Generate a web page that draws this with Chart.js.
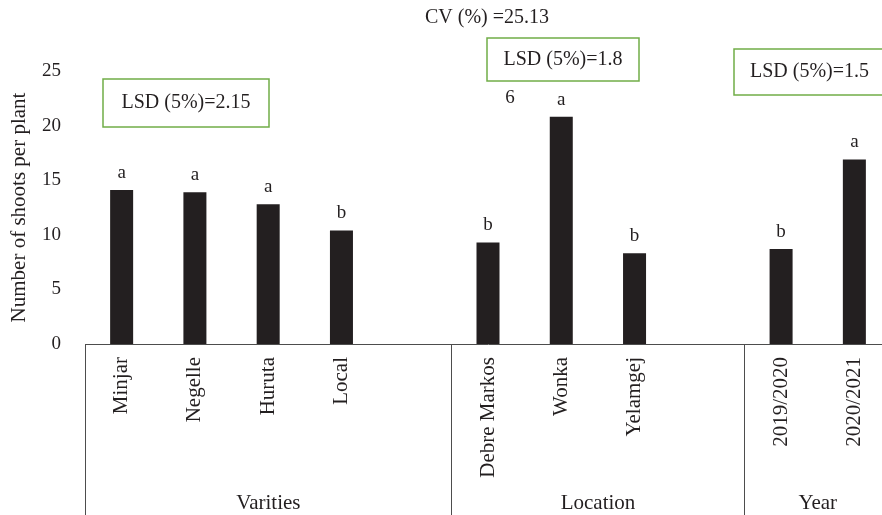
<!DOCTYPE html>
<html>
<head>
<meta charset="utf-8">
<script src="https://cdn.jsdelivr.net/npm/chart.js@4"></script>
<style>
  html, body { margin: 0; padding: 0; background: #fff; overflow: hidden; }
  #wrap { width: 900px; height: 515px; position: relative; }
</style>
</head>
<body>
<div id="wrap"><canvas id="shootsChart"></canvas></div>
<script>
// empty strings are the gaps between the groups
const categories = ['Minjar', 'Negelle', 'Huruta', 'Local', '', 'Debre Markos', 'Wonka', 'Yelamgej', '', '2019/2020', '2020/2021'];
const shoots = [14.1, 13.9, 12.8, 10.4, null, 9.3, 20.8, 8.3, null, 8.7, 16.9];
const letters = ['a', 'a', 'a', 'b', '', 'b', 'a', 'b', '', 'b', 'a'];
const yTicks = [0, 5, 10, 15, 20, 25];
const groups = [
    { name: 'Varities', from: 0, to: 4 },
    { name: 'Location', from: 5, to: 8 },
    { name: 'Year', from: 9, to: 10 }
];
const lsdNotes = ['LSD (5%)=2.15', 'LSD (5%)=1.8', 'LSD (5%)=1.5'];
const cvNote = 'CV (%) =25.13';

const ink = '#231f20';
const lineCol = '#4d4d4d';
const serif = '"Liberation Serif", "DejaVu Serif", serif';

const extrasPlugin = {
    id: 'extras',
    afterDraw(chart) {
        const ctx = chart.ctx;
        const x = chart.scales.x;
        const y = chart.scales.y;
        const area = chart.chartArea;
        const bottom = chart.height;
        ctx.save();

        // group separators and names under the axis
        ctx.strokeStyle = lineCol;
        ctx.lineWidth = 1;
        ctx.fillStyle = ink;
        ctx.font = '21px ' + serif;
        ctx.textAlign = 'center';
        ctx.textBaseline = 'middle';
        groups.forEach(g => {
            const left = Math.round(x.getPixelForValue(g.from - 0.5)) + 0.5;
            const right = x.getPixelForValue(g.to + 0.5);
            ctx.beginPath();
            ctx.moveTo(left, area.bottom);
            ctx.lineTo(left, bottom);
            ctx.stroke();
            ctx.fillText(g.name, (left + right) / 2, 503);
        });

        // significance letters over the bars
        ctx.font = '19px ' + serif;
        const meta = chart.getDatasetMeta(0);
        meta.data.forEach((bar, i) => {
            if (!letters[i]) return;
            ctx.fillText(letters[i], bar.x, bar.y - 17);
        });
        // stray "6" printed next to the Wonka letter in the original
        ctx.fillText('6', x.getPixelForValue(5.3), y.getPixelForValue(22.5));

        // CV note
        ctx.font = '20px ' + serif;
        ctx.fillText(cvNote, 487, 18);

        // LSD boxes
        const boxes = [
            { l: 103, t: 79, r: 269, b: 127 },
            { l: 487, t: 38, r: 639, b: 81 },
            { l: 734, t: 49, r: 905, b: 95 }
        ];
        ctx.strokeStyle = '#70ad47';
        ctx.lineWidth = 1.5;
        boxes.forEach((bx, i) => {
            ctx.strokeRect(bx.l, bx.t, bx.r - bx.l, bx.b - bx.t);
            ctx.textAlign = i === 2 ? 'left' : 'center';
            const tx = i === 2 ? bx.l + 16 : (bx.l + bx.r) / 2;
            ctx.fillText(lsdNotes[i], tx, (bx.t + bx.b) / 2);
        });
        ctx.restore();
    }
};

document.addEventListener('DOMContentLoaded', () => {
    const ctx = document.getElementById('shootsChart').getContext('2d');

    new Chart(ctx, {
        type: 'bar',
        data: {
            labels: categories,
            datasets: [{
                data: shoots,
                backgroundColor: ink,
                categoryPercentage: 1,
                barPercentage: 0.314
            }]
        },
        options: {
            responsive: true,
            maintainAspectRatio: false,
            animation: false,
            events: [],
            layout: { padding: { top: 71, right: 9, bottom: 0, left: 0 } },
            plugins: {
                legend: { display: false },
                tooltip: { enabled: false }
            },
            scales: {
                x: {
                    grid: { display: false, drawTicks: false },
                    border: { display: true, color: lineCol, width: 1 },
                    ticks: {
                        autoSkip: false,
                        minRotation: 90,
                        maxRotation: 90,
                        padding: 13,
                        color: ink,
                        font: { family: serif, size: 21 }
                    },
                    afterFit(scale) { scale.height = 171; }
                },
                y: {
                    min: 0,
                    max: 25,
                    grid: { display: false, drawTicks: false },
                    border: { display: false },
                    afterBuildTicks(scale) { scale.ticks = yTicks.map(v => ({ value: v })); },
                    ticks: {
                        padding: 24,
                        color: ink,
                        font: { family: serif, size: 19 }
                    },
                    title: {
                        display: true,
                        text: 'Number of shoots per plant',
                        color: ink,
                        font: { family: serif, size: 21 },
                        padding: { top: 7, bottom: 0 }
                    },
                    afterFit(scale) { scale.width = 85; }
                }
            }
        },
        plugins: [extrasPlugin]
    });
});
</script>
</body>
</html>
